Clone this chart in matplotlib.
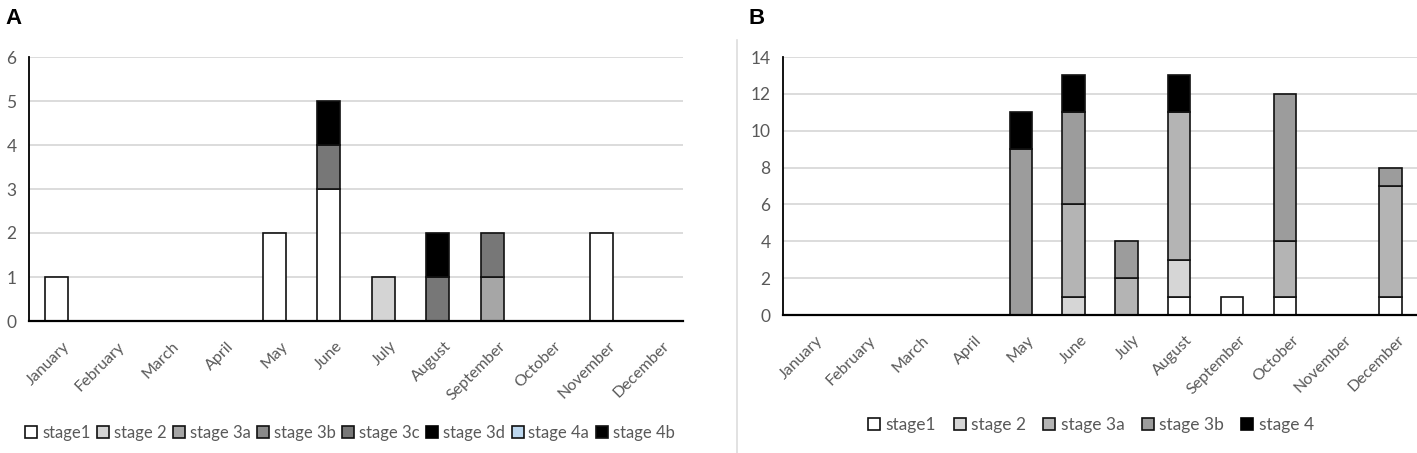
import matplotlib

matplotlib.use("Agg")

import matplotlib.pyplot as plt
import numpy as np
from matplotlib.lines import Line2D

plt.rcParams["font.family"] = ["Lato", "DejaVu Sans"]

MONTHS = ["January", "February", "March", "April", "May", "June",
          "July", "August", "September", "October", "November", "December"]

# panel A: counts per month and stage
A_STAGES = ["stage1", "stage 2", "stage 3a", "stage 3b", "stage 3c", "stage 3d", "stage 4a", "stage 4b"]
A_STAGE1 = [1, 0, 0, 0, 2, 3, 0, 0, 0, 0, 2, 0]
A_STAGE2 = [0, 0, 0, 0, 0, 0, 1, 0, 0, 0, 0, 0]
A_STAGE3A = [0, 0, 0, 0, 0, 0, 0, 0, 1, 0, 0, 0]
A_STAGE3B = [0, 0, 0, 0, 0, 0, 0, 0, 0, 0, 0, 0]
A_STAGE3C = [0, 0, 0, 0, 0, 1, 0, 1, 1, 0, 0, 0]
A_STAGE3D = [0, 0, 0, 0, 0, 0, 0, 1, 0, 0, 0, 0]
A_STAGE4A = [0, 0, 0, 0, 0, 0, 0, 0, 0, 0, 0, 0]
A_STAGE4B = [0, 0, 0, 0, 0, 1, 0, 0, 0, 0, 0, 0]
A_COLORS = ["#ffffff", "#d4d4d4", "#a6a6a6", "#8a8a8a", "#777777", "#000000", "#bdd7ee", "#000000"]

# panel B
B_STAGES = ["stage1", "stage 2", "stage 3a", "stage 3b", "stage 4"]
B_STAGE1 = [0, 0, 0, 0, 0, 0, 0, 1, 1, 1, 0, 1]
B_STAGE2 = [0, 0, 0, 0, 0, 1, 0, 2, 0, 0, 0, 0]
B_STAGE3A = [0, 0, 0, 0, 0, 5, 2, 8, 0, 3, 0, 6]
B_STAGE3B = [0, 0, 0, 0, 9, 5, 2, 0, 0, 8, 0, 1]
B_STAGE4 = [0, 0, 0, 0, 2, 2, 0, 2, 0, 0, 0, 0]
B_COLORS = ["#ffffff", "#d6d6d6", "#b4b4b4", "#9c9c9c", "#000000"]

TEXT = "#595959"
GRID = "#d9d9d9"


def draw_panel(ax, series, colors, ymax, ystep):
    x = np.arange(len(MONTHS))
    bottom = np.zeros(len(MONTHS))
    for vals, col in zip(series, colors):
        vals = np.array(vals, dtype=float)
        mask = vals > 0
        ax.bar(x[mask], vals[mask], bottom=bottom[mask], width=0.42,
               color=col, edgecolor="#111111", linewidth=1.2, zorder=3)
        bottom += vals
    ax.set_xlim(-0.5, len(MONTHS) - 0.5)
    ax.set_ylim(0, ymax)
    ax.set_yticks(np.arange(0, ymax + 1, ystep))
    ax.yaxis.grid(True, color=GRID, linewidth=1.3, zorder=0)
    ax.set_axisbelow(True)
    for side in ["top", "right"]:
        ax.spines[side].set_visible(False)
    ax.spines["left"].set_linewidth(1.3)
    ax.spines["bottom"].set_linewidth(1.6)
    ax.spines["left"].set_zorder(4)
    ax.spines["bottom"].set_zorder(4)
    ax.tick_params(axis="y", length=0, colors=TEXT, labelsize=12.5, pad=9)
    ax.set_xticks(x + 0.12)
    ax.set_xticklabels(MONTHS, rotation=45, ha="right", rotation_mode="anchor")
    ax.tick_params(axis="x", length=0, colors=TEXT, labelsize=11.5, pad=13)


def legend_handles(labels, colors, fill_only=()):
    handles = []
    for lab, col in zip(labels, colors):
        edge = col if lab in fill_only else "#111111"
        handles.append(Line2D([], [], marker="s", linestyle="none", markersize=9,
                              markerfacecolor=col, markeredgecolor=edge,
                              markeredgewidth=1.2, label=lab))
    return handles


fig = plt.figure(figsize=(14.17, 4.53), dpi=100)

ax_a = fig.add_axes([29 / 1417, 1 - 321 / 453, (683 - 29) / 1417, (321 - 57) / 453])
draw_panel(ax_a, [A_STAGE1, A_STAGE2, A_STAGE3A, A_STAGE3B, A_STAGE3C,
                  A_STAGE3D, A_STAGE4A, A_STAGE4B], A_COLORS, 6, 1)
ax_a.legend(handles=legend_handles(A_STAGES, A_COLORS, fill_only=("stage 3d",)),
            loc="center", bbox_to_anchor=(350 / 1417, 1 - 433 / 453),
            bbox_transform=fig.transFigure, ncol=8, frameon=False,
            handlelength=0.7, handletextpad=0.3, columnspacing=0.4,
            borderaxespad=0, fontsize=12, labelcolor=TEXT)

ax_b = fig.add_axes([783 / 1417, 1 - 315 / 453, (1417 - 783) / 1417, (315 - 57) / 453])
draw_panel(ax_b, [B_STAGE1, B_STAGE2, B_STAGE3A, B_STAGE3B, B_STAGE4], B_COLORS, 14, 2)
ax_b.legend(handles=legend_handles(B_STAGES, B_COLORS, fill_only=("stage 4",)),
            loc="center", bbox_to_anchor=(1091 / 1417, 1 - 425 / 453),
            bbox_transform=fig.transFigure, ncol=5, frameon=False,
            handlelength=0.7, handletextpad=0.3, columnspacing=1.0,
            borderaxespad=0, fontsize=12.5, labelcolor=TEXT)

# divider between panels
fig.add_artist(Line2D([737 / 1417, 737 / 1417], [0, 1 - 40 / 453],
                      color="#dddddd", linewidth=1.2, transform=fig.transFigure))

fig.text(5 / 1417, 1 - 18 / 453, "A", fontsize=16, fontweight="bold",
         family="Liberation Sans", va="center", ha="left")
fig.text(749 / 1417, 1 - 18 / 453, "B", fontsize=16, fontweight="bold",
         family="Liberation Sans", va="center", ha="left")

fig.savefig("out.png", dpi=100)
plt.close(fig)
